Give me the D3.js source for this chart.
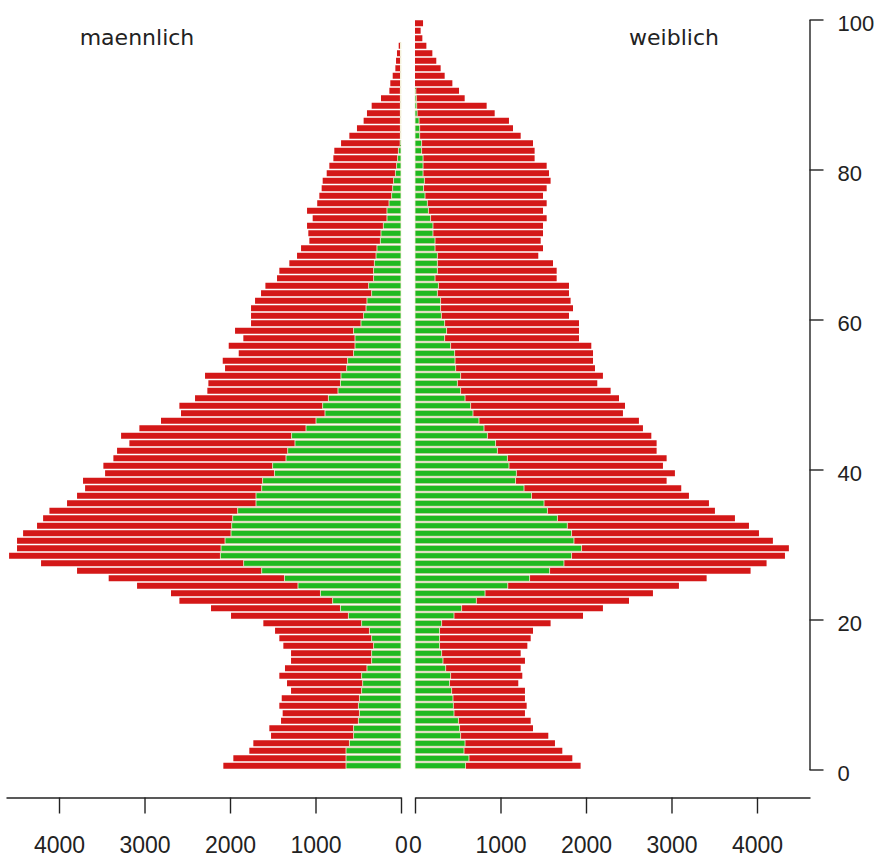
<!DOCTYPE html>
<html>
<head>
<meta charset="utf-8">
<script src="https://cdn.jsdelivr.net/npm/d3@7"></script>
<style>
  body { margin: 0; background: #fff; }
  .axis path, .axis line { stroke: #222; stroke-width: 1.4; }
  .axis text { font-family: "Liberation Sans", Arial, sans-serif; fill: #222; }
  .title { font-family: "DejaVu Sans", sans-serif; font-size: 22px; fill: #222; }
</style>
</head>
<body>
<div id="chart"></div>
<script>
// ages 0..99
var ages = d3.range(0, 100);

var maleTotal = [
  2078, 1961, 1774, 1727, 1520, 1540, 1403, 1384, 1423, 1395,
  1286, 1333, 1423, 1357, 1286, 1286, 1376, 1423, 1473, 1610,
  1988, 2222, 2592, 2690, 3087, 3419, 3789, 4210, 4584, 4491,
  4491, 4420, 4257, 4186, 4112, 3906, 3789, 3695, 3719, 3461,
  3481, 3364, 3321, 3177, 3274, 3060, 2807, 2573, 2592, 2409,
  2265, 2253, 2292, 2058, 2085, 1898, 2015, 1844, 1941, 1754,
  1754, 1754, 1707, 1637, 1586, 1450, 1423, 1306, 1216, 1169,
  1072, 1084, 1099, 1033, 1099, 980, 955, 928, 916, 869,
  838, 791, 780, 701, 604, 515, 437, 398, 343, 234,
  136, 125, 97, 66, 58, 47, 27, 0, 0, 0
];

var maleGreen = [
  643, 643, 643, 604, 554, 554, 499, 487, 499, 487,
  460, 448, 460, 398, 343, 343, 320, 343, 370, 460,
  616, 709, 799, 943, 1205, 1364, 1629, 1840, 2113, 2105,
  2058, 1988, 1980, 1968, 1910, 1696, 1696, 1629, 1618, 1481,
  1501, 1345, 1325, 1240, 1279, 1111, 994, 889, 916, 850,
  737, 709, 702, 635, 624, 554, 538, 538, 554, 468,
  437, 409, 398, 343, 378, 320, 320, 312, 292, 281,
  242, 234, 207, 164, 164, 140, 109, 97, 86, 66,
  51, 39, 31, 10, 8, 8, 8, 8, 8, 8,
  8, 5, 5, 5, 5, 5, 5, 0, 0, 0
];

var femaleTotal = [
  1937, 1840, 1723, 1637, 1559, 1380, 1353, 1286, 1306, 1286,
  1286, 1208, 1255, 1236, 1286, 1236, 1314, 1353, 1380, 1586,
  1965, 2198, 2503, 2783, 3087, 3411, 3925, 4112, 4327, 4373,
  4186, 4023, 3906, 3742, 3508, 3438, 3204, 3114, 2943, 3040,
  2900, 2943, 2826, 2826, 2764, 2666, 2619, 2432, 2456, 2386,
  2288, 2132, 2198, 2105, 2082, 2082, 2062, 1918, 1918, 1918,
  1801, 1848, 1820, 1801, 1801, 1657, 1657, 1614, 1442, 1497,
  1470, 1497, 1497, 1540, 1497, 1540, 1497, 1540, 1586, 1567,
  1540, 1399, 1399, 1380, 1236, 1146, 1099, 932, 838, 581,
  515, 437, 347, 300, 249, 203, 133, 86, 66, 94
];

var femaleGreen = [
  592, 631, 573, 585, 534, 522, 507, 456, 448, 444,
  429, 405, 417, 359, 327, 312, 288, 288, 288, 312,
  456, 546, 717, 819, 1085, 1341, 1575, 1742, 1832, 1949,
  1859, 1832, 1781, 1665, 1548, 1509, 1364, 1275, 1177, 1185,
  1099, 1080, 963, 943, 846, 807, 748, 678, 651, 585,
  534, 495, 534, 476, 468, 464, 417, 347, 370, 347,
  308, 300, 300, 261, 273, 234, 261, 261, 261, 234,
  234, 210, 210, 183, 156, 144, 117, 101, 109, 94,
  94, 94, 78, 78, 55, 55, 47, 25, 20, 15,
  10, 0, 0, 0, 0, 0, 0, 0, 0, 0
];

var xTicks = [0, 1000, 2000, 3000, 4000];
var yTicks = [0, 20, 40, 60, 80, 100];
var xMax = 4620;

var fullwidth = 879,
    fullheight = 857,
    barHeight = 6;

var red = "#d41818",
    green = "#20b920";

var svg = d3.select("#chart")
    .append("svg")
    .attr("width", fullwidth)
    .attr("height", fullheight);

// left half mirrored, right half normal
var xLeft = d3.scaleLinear().domain([0, xMax]).range([401, 6]);
var xRight = d3.scaleLinear().domain([0, xMax]).range([415, 810]);
var y = d3.scaleLinear().domain([0, 100]).range([769.5, 19.5]);

var bars = svg.append("g").classed("bars", true);

// male
bars.selectAll("rect.male-total")
    .data(ages)
    .enter().append("rect")
    .classed("male-total", true)
    .attr("x", function(a) { return xLeft(maleTotal[a]); })
    .attr("width", function(a) { return xLeft(0) - xLeft(maleTotal[a]); })
    .attr("y", function(a) { return y(a + 1) + 0.75; })
    .attr("height", barHeight)
    .attr("fill", red);

bars.selectAll("rect.male-green")
    .data(ages.filter(function(a) { return maleGreen[a] > 0; }))
    .enter().append("rect")
    .classed("male-green", true)
    .attr("x", function(a) { return xLeft(maleGreen[a]); })
    .attr("width", function(a) { return xLeft(0) - xLeft(maleGreen[a]); })
    .attr("y", function(a) { return y(a + 1) + 0.75; })
    .attr("height", barHeight)
    .attr("fill", green)
    .attr("stroke", "#f3f0d8")
    .attr("stroke-width", 0.8);

// female
bars.selectAll("rect.female-total")
    .data(ages)
    .enter().append("rect")
    .classed("female-total", true)
    .attr("x", xRight(0))
    .attr("width", function(a) { return xRight(femaleTotal[a]) - xRight(0); })
    .attr("y", function(a) { return y(a + 1) + 0.75; })
    .attr("height", barHeight)
    .attr("fill", red);

bars.selectAll("rect.female-green")
    .data(ages.filter(function(a) { return femaleGreen[a] > 0; }))
    .enter().append("rect")
    .classed("female-green", true)
    .attr("x", xRight(0))
    .attr("width", function(a) { return xRight(femaleGreen[a]) - xRight(0); })
    .attr("y", function(a) { return y(a + 1) + 0.75; })
    .attr("height", barHeight)
    .attr("fill", green)
    .attr("stroke", "#f3f0d8")
    .attr("stroke-width", 0.8);

// bottom axes
var axisY = 797.5;
var fmt = d3.format("d");

svg.append("g")
    .classed("x axis", true)
    .attr("transform", "translate(0," + axisY + ")")
    .call(d3.axisBottom(xLeft).tickValues(xTicks).tickFormat(fmt)
        .tickSize(16).tickSizeOuter(0).tickPadding(23))
    .selectAll("text").style("font-size", "23px");

svg.append("g")
    .classed("x axis", true)
    .attr("transform", "translate(0," + axisY + ")")
    .call(d3.axisBottom(xRight).tickValues(xTicks).tickFormat(fmt)
        .tickSize(16).tickSizeOuter(0).tickPadding(23))
    .selectAll("text").style("font-size", "23px");

// age axis on the right
svg.append("g")
    .classed("y axis", true)
    .attr("transform", "translate(809.5,0)")
    .call(d3.axisRight(y).tickValues(yTicks).tickFormat(fmt)
        .tickSize(14).tickSizeOuter(0).tickPadding(14))
    .selectAll("text")
    .style("font-size", "22px")
    .attr("dy", "0.5em");

svg.selectAll(".axis .domain").attr("fill", "none");

svg.append("text")
    .classed("title", true)
    .attr("x", 137)
    .attr("y", 45)
    .style("text-anchor", "middle")
    .text("maennlich");

svg.append("text")
    .classed("title", true)
    .attr("x", 674)
    .attr("y", 45)
    .style("text-anchor", "middle")
    .text("weiblich");
</script>
</body>
</html>
